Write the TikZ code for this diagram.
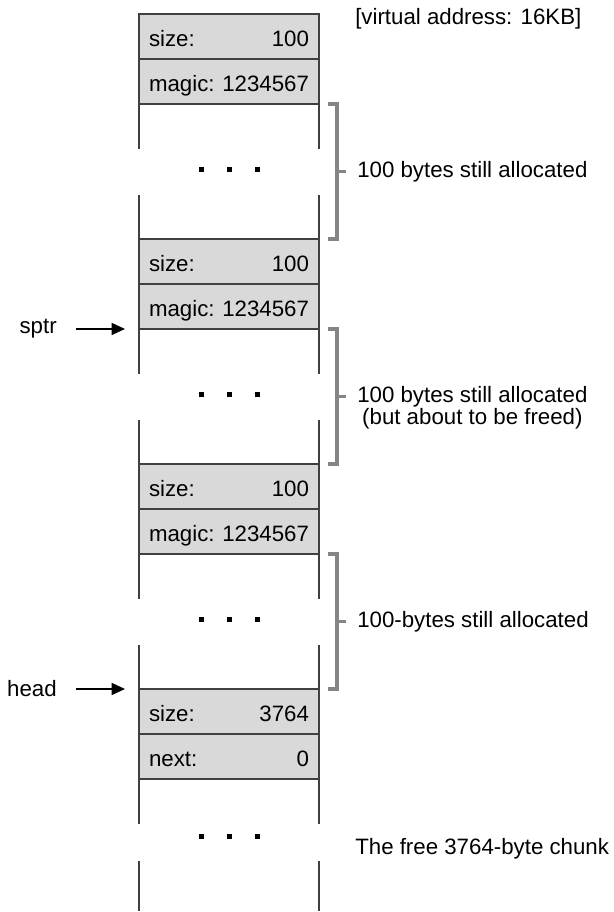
\documentclass[tikz,border=0pt]{standalone}
\usepackage{fontspec}
\setmainfont{Liberation Sans}
\usetikzlibrary{positioning, arrows.meta}
\tikzstyle{field} = [rectangle, draw=black!75, fill=black!15, line width=1.1pt,
    minimum width=135pt, minimum height=33.75pt, inner xsep=0pt, outer sep=0pt,
    text height=15pt, text depth=0pt]
\tikzstyle{hole} = [rectangle, minimum width=135pt, minimum height=101.25pt, outer sep=0pt]
\tikzstyle{side} = [draw=black!75, line width=1.1pt]
\tikzstyle{brace} = [draw=black!48, line width=2.6pt]
\tikzstyle{note} = [inner sep=0pt, align=center]
\tikzstyle{line} = [draw, line width=1.1pt, -{Triangle[length=10pt,width=9pt]},
    shorten <=14pt, shorten >=10.5pt]
\newcommand{\fld}[2]{\makebox[120pt]{#1\hfill#2}\hspace{1.5pt}}

\begin{document}
\begin{tikzpicture}[node distance = 0pt, font=\fontsize{16.7pt}{16.5pt}\selectfont]
        \useasboundingbox (0,0) rectangle (459.75pt,684pt);
        % Place nodes
        \node [field] (size1) at (171.75pt,656.625pt) {\fld{size:}{100}};
        \node [field, below=of size1] (magic1) {\fld{magic:}{1234567}};
        \node [hole, below=of magic1] (free1) {};
        \node [field, below=of free1] (size2) {\fld{size:}{100}};
        \node [field, below=of size2] (magic2) {\fld{magic:}{1234567}};
        \node [hole, below=of magic2] (free2) {};
        \node [field, below=of free2] (size3) {\fld{size:}{100}};
        \node [field, below=of size3] (magic3) {\fld{magic:}{1234567}};
        \node [hole, below=of magic3] (free3) {};
        \node [field, below=of free3] (size4) {\fld{size:}{3764}};
        \node [field, below=of size4] (next4) {\fld{next:}{0}};
        \node [hole, minimum height=99pt, below=of next4] (free4) {};
        % Open parts of the heap
        \foreach \f in {free1,free2,free3} {
            \draw [side] (\f.north west) -- ++(0,-33.75pt) (\f.north east) -- ++(0,-33.75pt)
                (\f.south west) -- ++(0,33pt) (\f.south east) -- ++(0,33pt);
            \foreach \dx in {-21pt,0pt,21pt}
                \fill ([shift={(\dx,-49.5pt)}]\f.north) +(-1.875pt,-1.875pt) rectangle +(1.875pt,1.875pt);
        }
        \draw [side] (free4.north west) -- ++(0,-33.75pt) (free4.north east) -- ++(0,-33.75pt)
            (free4.south west) -- ++(0,37.5pt) (free4.south east) -- ++(0,37.5pt);
        \foreach \dx in {-21pt,0pt,21pt}
            \fill ([shift={(\dx,-43.5pt)}]free4.north) +(-1.875pt,-1.875pt) rectangle +(1.875pt,1.875pt);
        % Brackets
        \foreach \f/\n in {free1/1,free2/2,free3/3} {
            \draw [brace] ([xshift=6.75pt]\f.north east) -- ++(6.75pt,0) |- ([xshift=6.75pt]\f.south east);
            \draw [brace] ([xshift=13.5pt]\f.east) -- ++(6.75pt,0) coordinate (tick\n);
        }
        % Info nodes
        \node [note, anchor=base west] (vaddr) at (266.25pt,665.25pt) {[virtual address: 16KB]};
        \node [note, right=8.25pt of tick1] (note1) {100 bytes still allocated};
        \node [note, right=8.25pt of tick2, yshift=-8.5pt] (note2) {100 bytes still allocated\\(but about to be freed)};
        \node [note, right=8.25pt of tick3] (note3) {100-bytes still allocated};
        \node [note, anchor=base west] (chunk) at (266.25pt,42.75pt) {The free 3764-byte chunk};
        % Pointers
        \node [note, left=61.5pt of free2.north west] (sptr) {sptr};
        \node [note, left=61.5pt of size4.north west] (head) {head};
        \path [line] (sptr) -- (free2.north west);
        \path [line] (head) -- (size4.north west);
\end{tikzpicture}
\end{document}
